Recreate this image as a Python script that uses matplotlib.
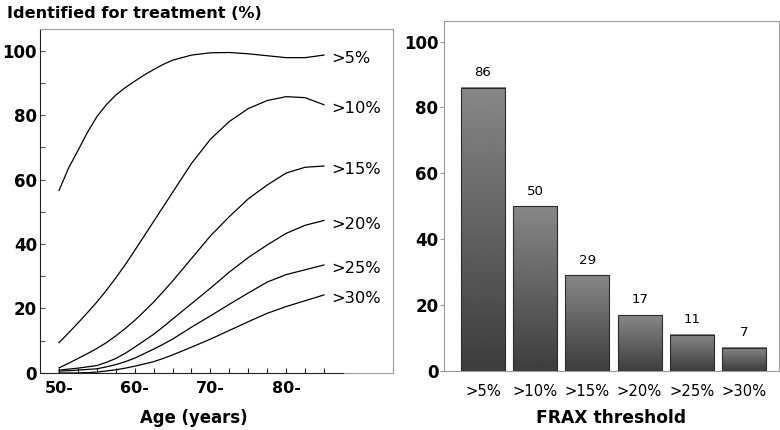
import numpy as np
import matplotlib
matplotlib.use("Agg")
import matplotlib.pyplot as plt

# Left panel: % identified for treatment by age, per FRAX threshold
ages = [50, 51.25, 52.5, 53.75, 55, 56.25, 57.5, 58.75, 60, 61.25, 62.5, 63.75, 65,
        67.5, 70, 72.5, 75, 77.5, 80, 82.5, 85]
curve_labels = [">5%", ">10%", ">15%", ">20%", ">25%", ">30%"]
curve_5 = [56.6, 63.5, 69, 74.6, 79.5, 83.2, 86.2, 88.5, 90.5, 92.4, 94.1, 95.7, 97,
           98.6, 99.3, 99.4, 99, 98.4, 97.8, 97.8, 98.6]
curve_10 = [9.4, 12.4, 15.5, 18.7, 22, 25.6, 29.5, 33.6, 38, 42.5, 47, 51.5, 56,
            65, 72.5, 78, 82, 84.5, 85.7, 85.4, 83.2]
curve_15 = [1.6, 3.0, 4.5, 6.0, 7.6, 9.4, 11.5, 13.8, 16.3, 19.1, 22, 25.2, 28.5,
            35.5, 42.5, 48.5, 54, 58.3, 62, 63.8, 64.2]
curve_20 = [0.9, 1.2, 1.5, 1.9, 2.3, 3.3, 4.5, 6.1, 8, 10, 12, 14.3, 16.7,
            21.5, 26.3, 31.3, 35.8, 39.7, 43.3, 45.8, 47.3]
curve_25 = [0.6, 0.7, 0.9, 1.1, 1.3, 1.9, 2.6, 3.5, 4.6, 6.0, 7.4, 8.9, 10.5,
            14.2, 17.7, 21.3, 24.8, 28.2, 30.5, 32, 33.5]
curve_30 = [0, 0, 0, 0.1, 0.3, 0.6, 1.0, 1.5, 2.1, 2.8, 3.5, 4.5, 5.6,
            8.0, 10.5, 13.2, 15.9, 18.5, 20.6, 22.4, 24.2]
curves = [curve_5, curve_10, curve_15, curve_20, curve_25, curve_30]

# Right panel: overall % identified per threshold
thresholds = [">5%", ">10%", ">15%", ">20%", ">25%", ">30%"]
identified = [86, 50, 29, 17, 11, 7]

BOX = "#9a9a9a"
DARK = "#222222"

fig = plt.figure(figsize=(7.8, 4.3), dpi=100)

# ---------------- left panel ----------------
ax1 = fig.add_axes([0.0519, 0.1326, 0.4523, 0.7993])
for vals in curves:
    ax1.plot(ages, vals, color="black", lw=0.9)
for lab, vals in zip(curve_labels, curves):
    ax1.text(86.0, vals[-1] - 1.2, lab, fontsize=11.7, va="center", ha="left")

ax1.set_xlim(47.55, 94.16)
ax1.set_ylim(0, 106.6)
for s in ["top", "right"]:
    ax1.spines[s].set_color(BOX)
ax1.spines["left"].set_color(DARK)
ax1.spines["bottom"].set_color(DARK)
ax1.spines["bottom"].set_bounds(47.55, 87.5)
ax1.axhline(0, xmin=(87.5 - 47.55) / (94.16 - 47.55), xmax=1, color=BOX, lw=0.8, clip_on=False)

xt = np.arange(50, 85.1, 2.5)
ax1.set_xticks(xt)
ax1.set_xticklabels([f"{int(t)}-" if t % 10 == 0 else "" for t in xt],
                    fontsize=11.5, fontweight="bold")
ax1.set_yticks([0, 20, 40, 60, 80, 100])
ax1.set_yticks([10, 30, 50, 70, 90], minor=True)
ax1.set_yticklabels(["0", "20", "40", "60", "80", "100"], fontsize=12, fontweight="bold")
ax1.tick_params(axis="x", direction="in", length=3.5, width=0.8, color=DARK, pad=6)
ax1.tick_params(axis="y", which="both", direction="in", length=3.5, width=0.8,
                color="#555555", pad=2.5)

fig.text(7 / 780, 1 - 13 / 430, "Identified for treatment (%)", fontsize=11.6,
         fontweight="bold", ha="left", va="center")
fig.text(194 / 780, 1 - 418 / 430, "Age (years)", fontsize=11.9,
         fontweight="bold", ha="center", va="center")

# ---------------- right panel ----------------
ax2 = fig.add_axes([0.5692, 0.1372, 0.4295, 0.8151])
width = 0.843
xpos = np.arange(len(thresholds))
grad = np.linspace(0.24, 0.53, 128).reshape(-1, 1)
for x, v in zip(xpos, identified):
    ax2.imshow(grad, cmap="gray", vmin=0, vmax=1, origin="lower", aspect="auto",
               extent=(x - width / 2, x + width / 2, 0, v), interpolation="bilinear",
               zorder=2)
ax2.bar(xpos, identified, width=width, facecolor="none", edgecolor="#2a2a2a",
        lw=0.8, zorder=3)
for x, v in zip(xpos, identified):
    ax2.annotate(str(v), (x, v), xytext=(0, 11), textcoords="offset points",
                 ha="center", va="center", fontsize=9.6)

ax2.set_xlim(-0.747, 5.67)
ax2.set_ylim(0, 106.4)
for s in ax2.spines.values():
    s.set_color(BOX)
ax2.set_xticks(xpos)
ax2.set_xticklabels(thresholds, fontsize=10.6)
ax2.tick_params(axis="x", length=0, pad=9)
ax2.set_yticks([0, 20, 40, 60, 80, 100])
ax2.set_yticklabels(["0", "20", "40", "60", "80", "100"], fontsize=12, fontweight="bold")
ax2.tick_params(axis="y", direction="out", length=3, width=0.8, color=BOX, pad=1)

fig.text(611.5 / 780, 1 - 418 / 430, "FRAX threshold", fontsize=12.3,
         fontweight="bold", ha="center", va="center")

fig.savefig("out.png", dpi=100)
